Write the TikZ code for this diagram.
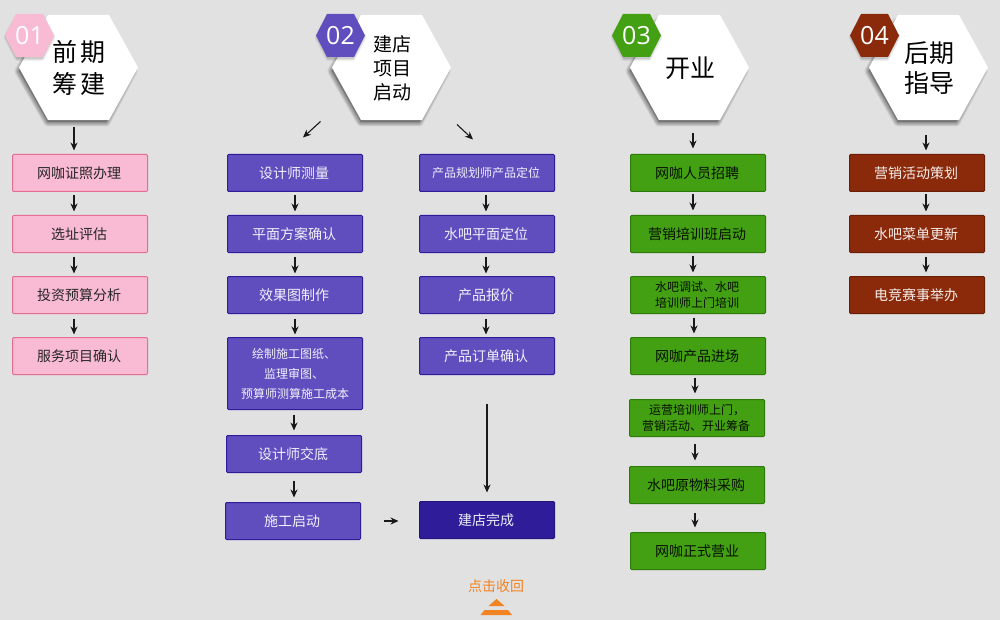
\documentclass[tikz,border=0pt]{standalone}
\usepackage{fontspec}
\setmainfont{Noto Sans CJK SC}
\newfontfamily\numfont{Open Sans}
\usetikzlibrary{arrows.meta,calc}
\definecolor{pagebg}{HTML}{E1E1E1}
\definecolor{pinkfill}{HTML}{F9BBD3}\definecolor{pinkline}{HTML}{E56C95}
\definecolor{purpfill}{HTML}{604DBE}\definecolor{purpline}{HTML}{2E1C9A}
\definecolor{darkfill}{HTML}{2F1C99}\definecolor{darkline}{HTML}{24147F}
\definecolor{grnfill}{HTML}{42A012}\definecolor{grnline}{HTML}{2E7A0A}
\definecolor{redfill}{HTML}{8B2A0B}\definecolor{redline}{HTML}{6A1E05}
\definecolor{orng}{HTML}{F28322}
\newcommand{\txln}[1]{\hspace*{-2pt}#1}
\tikzset{
  x=1pt,y=-1pt,
  boxbase/.style={draw,line width=1pt,rounded corners=1pt,inner sep=0pt,outer sep=0pt,align=center,font=\fontsize{14}{18}\selectfont},
  pinkbox/.style={boxbase,fill=pinkfill,draw=pinkline,text=black!85},
  purpbox/.style={boxbase,fill=purpfill,draw=purpline,text=white!92!purpfill},
  darkbox/.style={boxbase,fill=darkfill,draw=darkline,text=white!92!darkfill},
  grnbox/.style={boxbase,fill=grnfill,draw=grnline,text=black!90!grnfill},
  redbox/.style={boxbase,fill=redfill,draw=redline,text=white!92!redfill},
  smalltxt/.style={font=\fontsize{12}{16}\selectfont},
  flow/.style={-{Stealth[length=8pt,width=7pt]},line width=1.1pt,black!90},
  hexlabel/.style={inner sep=0pt,outer sep=0pt,minimum width=119pt,minimum height=105pt,align=center,text=black},
  numlabel/.style={inner sep=0pt,text=white,font=\numfont\fontsize{25}{25}\selectfont},
}
% name, x1, y1, x2, y2, style, text
\newcommand{\flowbox}[7]{\node[#6,minimum width=#4-#2-1,minimum height=#5-#3-1] (#1) at ({(#2+#4)/2},{(#3+#5)/2}) {#7};}
% from, to, absolute x, y start gap, y end gap
\newcommand{\flowarr}[5]{\draw[flow,shorten <=#4pt,shorten >=#5pt] (#3,0 |- #1.south) -- (#3,0 |- #2.north);}
% name, left x of big hexagon, left x of small hexagon, colour, number, font size, baseline, text
\newcommand{\hexhead}[8]{%
  \begin{scope}[xshift=#2pt]
    \foreach \w in {9,7.5,6,4.5,3,1.5}{
      \path[fill=black,fill opacity=.03,draw=black,draw opacity=.07,line width=\w pt,line join=round]
        (0,71) -- (28,22) -- (87,22) -- (114,71) -- (87,122) -- (29,122) -- cycle;}
    \fill[white] (0,67.5) -- (29,15) -- (90,15) -- (119,67.5) -- (90,120) -- (29,120) -- cycle;
  \end{scope}
  \node[hexlabel,font=\fontsize{#6}{#7}\selectfont] (#1) at (#2+60,68) {#8};
  \begin{scope}[xshift=#3pt]
    \foreach \w in {5,3.5,2,.5}{
      \path[fill=black,fill opacity=.02,draw=black,draw opacity=.05,line width=\w pt,line join=round]
        (1,37) -- (12,17) -- (37,17) -- (48,37) -- (37,58.5) -- (12,58.5) -- cycle;}
    \fill[#4] (0,35.5) -- (11,14) -- (38,14) -- (49,35.5) -- (38,57) -- (11,57) -- cycle;
  \end{scope}
  \node[numlabel] (#1num) at (#3+24.5,35.5) {#5};
}
\begin{document}
\begin{tikzpicture}
\useasboundingbox (0,0) rectangle (1000,620);
\fill[pagebg] (0,0) rectangle (1000,620);

\hexhead{hA}{19}{5}{pinkfill}{01}{25}{32}{前\hspace{3pt}期\\筹\hspace{3pt}建}
\hexhead{hB}{332}{316}{purpfill}{02}{19}{24}{建店\\项目\\启动}
\hexhead{hC}{630}{612}{grnfill}{03}{25}{32}{开业}
\hexhead{hD}{869}{850}{redfill}{04}{25}{30}{后期\\指导}

% column 1
\flowbox{a1}{12}{154}{148}{192}{pinkbox}{\txln{网咖证照办理}}
\flowbox{a2}{12}{215}{148}{253}{pinkbox}{\txln{选址评估}}
\flowbox{a3}{12}{276}{148}{314}{pinkbox}{\txln{投资预算分析}}
\flowbox{a4}{12}{337}{148}{375}{pinkbox}{\txln{服务项目确认}}

% column 2 left
\flowbox{b1}{227}{154}{363}{192}{purpbox}{\txln{设计师测量}}
\flowbox{b2}{227}{215}{363}{253}{purpbox}{\txln{平面方案确认}}
\flowbox{b3}{227}{276}{363}{314}{purpbox}{\txln{效果图制作}}
\flowbox{b4}{227}{337}{363}{410}{purpbox,font=\fontsize{12}{20}\selectfont}{\txln{绘制施工图纸、}\\\txln{监理审图、}\\预算师测算施工成本}
\flowbox{b5}{226}{435}{362}{473}{purpbox}{\txln{设计师交底}}
\flowbox{b6}{225}{502}{361}{540}{purpbox}{\txln{施工启动}}

% column 2 right
\flowbox{c1}{419}{154}{555}{192}{purpbox,smalltxt}{\txln{产品规划师产品定位}}
\flowbox{c2}{419}{215}{555}{253}{purpbox}{\txln{水吧平面定位}}
\flowbox{c3}{419}{276}{555}{314}{purpbox}{\txln{产品报价}}
\flowbox{c4}{419}{337}{555}{375}{purpbox}{\txln{产品订单确认}}
\flowbox{c5}{419}{501}{555}{539}{darkbox}{\txln{建店完成}}

% column 3
\flowbox{d1}{630}{154}{766}{192}{grnbox}{\txln{网咖人员招聘}}
\flowbox{d2}{630}{215}{766}{253}{grnbox}{\txln{营销培训班启动}}
\flowbox{d3}{630}{276}{766}{314}{grnbox,smalltxt}{\txln{水吧调试、水吧}\\\txln{培训师上门培训}}
\flowbox{d4}{630}{337}{766}{375}{grnbox}{\txln{网咖产品进场}}
\flowbox{d5}{629}{399}{765}{437}{grnbox,smalltxt}{运营培训师上门，\\\txln{营销活动、开业筹备}}
\flowbox{d6}{629}{466}{765}{504}{grnbox}{\txln{水吧原物料采购}}
\flowbox{d7}{630}{532}{766}{570}{grnbox}{\txln{网咖正式营业}}

% column 4
\flowbox{e1}{849}{154}{985}{192}{redbox}{\txln{营销活动策划}}
\flowbox{e2}{849}{215}{985}{253}{redbox}{\txln{水吧菜单更新}}
\flowbox{e3}{849}{276}{985}{314}{redbox}{\txln{电竞赛事举办}}

% connectors column 1
\flowarr{hA}{a1}{74}{7}{4}
\flowarr{a1}{a2}{74}{4}{4}
\flowarr{a2}{a3}{74}{4}{3}
\flowarr{a3}{a4}{74}{5}{3}

% connectors column 2 left
\draw[flow] ($(hB.south)+(-71.5,1)$) -- ($(b1.north)+(8,-17)$);
\draw[flow] ($(hB.south)+(65,4)$) -- ($(c1.north)+(-14,-15)$);
\flowarr{b1}{b2}{295}{4}{4}
\flowarr{b2}{b3}{295}{4}{3}
\flowarr{b3}{b4}{295}{5}{3}
\flowarr{b4}{b5}{294}{5}{5}
\flowarr{b5}{b6}{294}{8}{5}
\draw[flow,shorten <=23pt,shorten >=21pt] (b6.east) -- (b6.east -| c5.west);

% connectors column 2 right
\flowarr{c1}{c2}{486}{4}{4}
\flowarr{c2}{c3}{486}{4}{3}
\flowarr{c3}{c4}{486}{5}{3}
\flowarr{c4}{c5}{487}{29}{9}

% connectors column 3
\flowarr{hC}{d1}{693}{13}{6}
\flowarr{d1}{d2}{693}{3}{5}
\flowarr{d2}{d3}{693}{3}{4}
\flowarr{d3}{d4}{694}{4}{4}
\flowarr{d4}{d5}{695}{3}{6}
\flowarr{d5}{d6}{695}{7}{6}
\flowarr{d6}{d7}{695}{9}{5}

% connectors column 4
\flowarr{hD}{e1}{926}{15}{4}
\flowarr{e1}{e2}{926}{3}{4}
\flowarr{e2}{e3}{926}{4}{4}

% collapse control
\node[inner sep=0pt,text=orng,font=\fontsize{14}{18}\selectfont] (back) at (496,586) {点击收回};
\fill[orng] (496.5,599) -- (504.5,606) -- (488.5,606) -- cycle;
\fill[orng] (484.5,610) -- (508,610) -- (512,615) -- (480.5,615) -- cycle;
\end{tikzpicture}
\end{document}
